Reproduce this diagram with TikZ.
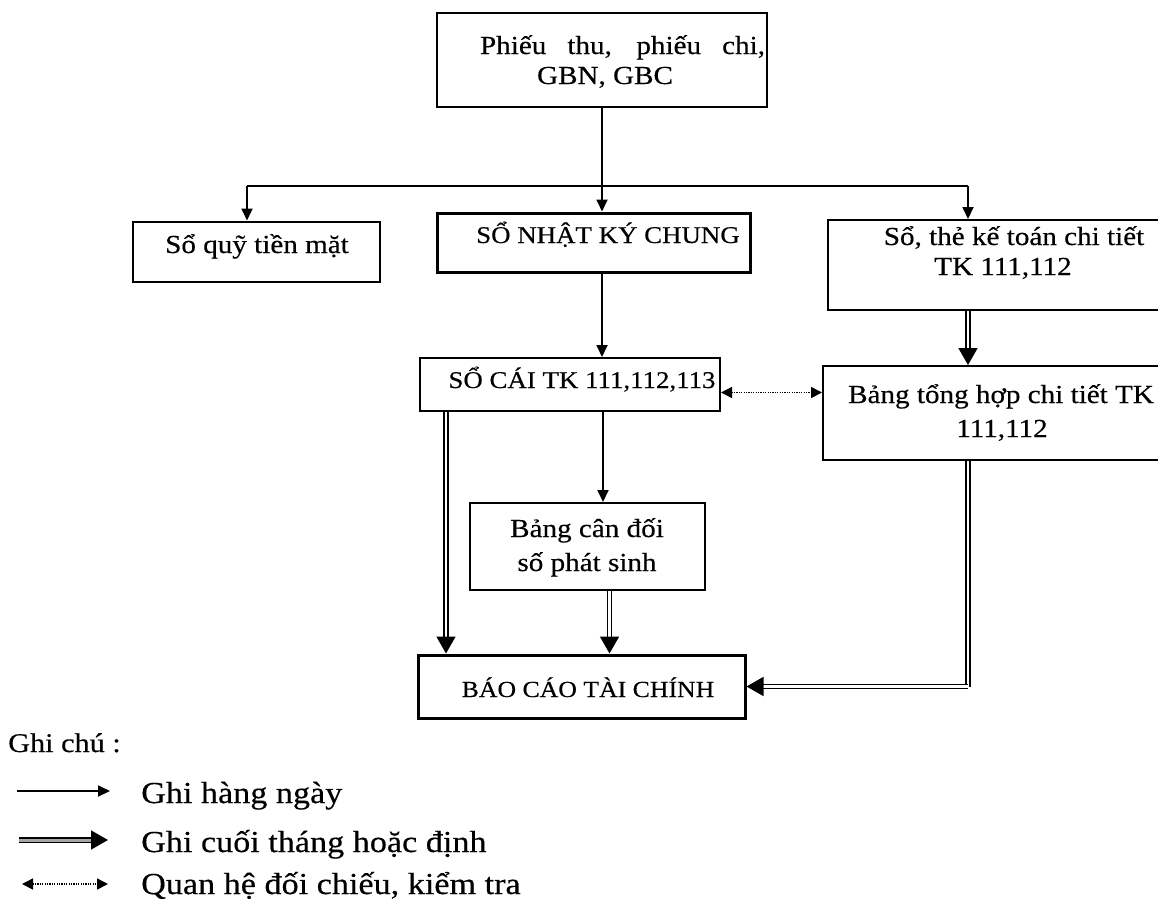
\documentclass[tikz,border=0pt]{standalone}
\usepackage{fontspec}
\setmainfont{Liberation Serif}[FakeStretch=1.12, FakeBold=0.4]
\usetikzlibrary{arrows.meta}
\begin{document}
\begin{tikzpicture}[x=1pt,y=-1pt,
  box/.style={draw, line width=2pt, inner sep=0pt},
  thickbox/.style={draw, line width=3pt, inner sep=0pt},
  txt/.style={font=\fontsize{26}{32}\selectfont, inner sep=0pt, anchor=base},
  caps/.style={font=\fontsize{24}{30}\selectfont, inner sep=0pt, anchor=base},
  leg/.style={font=\fontsize{30.5}{38}\selectfont, inner sep=0pt, anchor=base west},
  arr/.style={line width=1.8pt, -{Triangle[length=12pt,width=11pt]}},
  ln/.style={line width=1.8pt},
  dbl/.style={double, double distance=2.2pt, line width=1.6pt, -{Triangle[length=17pt,width=19pt]}},
  dbln/.style={double, double distance=2.2pt, line width=1.6pt},
  dots/.style={dash pattern=on 1.2pt off 1.2pt, line width=1.5pt, {Triangle[length=11pt,width=11pt]}-{Triangle[length=11pt,width=11pt]}},
]
\useasboundingbox (0,0) rectangle (1158,910);

% boxes
\node[box, line width=2.5pt, minimum width=330pt, minimum height=94pt] (top) at (602,60) {};
\node[box, minimum width=247pt, minimum height=60pt] (squy) at (256.5,251.5) {};
\node[thickbox, minimum width=313pt, minimum height=59pt] (nkc) at (593.5,242.5) {};
\node[box, minimum width=334pt, minimum height=90pt] (sthe) at (995,265) {};
\node[box, minimum width=300pt, minimum height=53pt] (sc) at (570,384.5) {};
\node[box, minimum width=340pt, minimum height=94pt] (bth) at (993,413) {};
\node[box, minimum width=235pt, minimum height=87pt] (bcd) at (587.5,546.5) {};
\node[thickbox, minimum width=327pt, minimum height=63pt] (bctc) at (581.5,686.5) {};

% texts
\node[txt] (t1) at (622.5,54) {\makebox[285pt][s]{Phiếu thu, phiếu chi,}};
\node[txt] (t2) at (605,84) {GBN, GBC};
\node[txt] (t3) at (257,253) {Sổ quỹ tiền mặt};
\node[caps] (t4) at (608,243) {SỔ NHẬT KÝ CHUNG};
\node[txt] (t5) at (1014,245) {Sổ, thẻ kế toán chi tiết};
\node[txt] (t6) at (1003,275) {TK 111,112};
\node[caps] (t7) at (582,388) {SỔ CÁI TK 111,112,113};
\node[txt] (t8) at (1001,403) {Bảng tổng hợp chi tiết TK};
\node[txt] (t9) at (1002,437) {111,112};
\node[txt] (t10) at (587,537) {Bảng cân đối};
\node[txt] (t11) at (587,571) {số phát sinh};
\node[caps, font=\fontsize{23}{30}\selectfont] (t12) at (588,697) {BÁO CÁO TÀI CHÍNH};

% connectors
\coordinate (hl) at (247,186);
\coordinate (hr) at (968,186);
\draw[arr] (top.south) -- (top.south |- nkc.north);
\draw[ln] (hl) -- (hr);
\draw[arr] (hl) -- (hl |- squy.north);
\draw[arr] (hr) -- (hr |- sthe.north);
\draw[arr] (top.south |- nkc.south) -- (top.south |- sc.north);
\draw[arr] ([xshift=33pt]sc.south) -- ([xshift=33pt]sc.south |- bcd.north);
\draw[dbl] ([xshift=27pt]sc.south west) -- ([xshift=27pt]sc.south west |- bctc.north);
\draw[dbl] ([xshift=22pt]bcd.south) -- ([xshift=22pt]bcd.south |- bctc.north);
\draw[dbl] (hr |- sthe.south) -- (hr |- bth.north);
\draw[dbln] (hr |- bth.south) -- (hr |- bctc.east);
\draw[dbl] (hr |- bctc.east) -- (bctc.east);
\draw[dots] ([yshift=-8pt]sc.east) -- ([yshift=-8pt]sc.east -| bth.west);

% legend
\node[leg, font=\fontsize{27}{32}\selectfont] (g0) at (8,752) {Ghi chú :};
\coordinate (l1a) at (17,791);
\coordinate (l1b) at (110,791);
\coordinate (l2a) at (19,840);
\coordinate (l2b) at (108,840);
\coordinate (l3a) at (22,884);
\coordinate (l3b) at (108,884);
\draw[arr] (l1a) -- (l1b);
\draw[dbl, double=gray!70, double distance=3pt] (l2a) -- (l2b);
\draw[dots] (l3a) -- (l3b);
\node[leg] (g1) at (141,803) {Ghi hàng ngày};
\node[leg] (g2) at (141,852) {Ghi cuối tháng hoặc định};
\node[leg] (g3) at (141,894) {Quan hệ đối chiếu, kiểm tra};
\end{tikzpicture}
\end{document}
